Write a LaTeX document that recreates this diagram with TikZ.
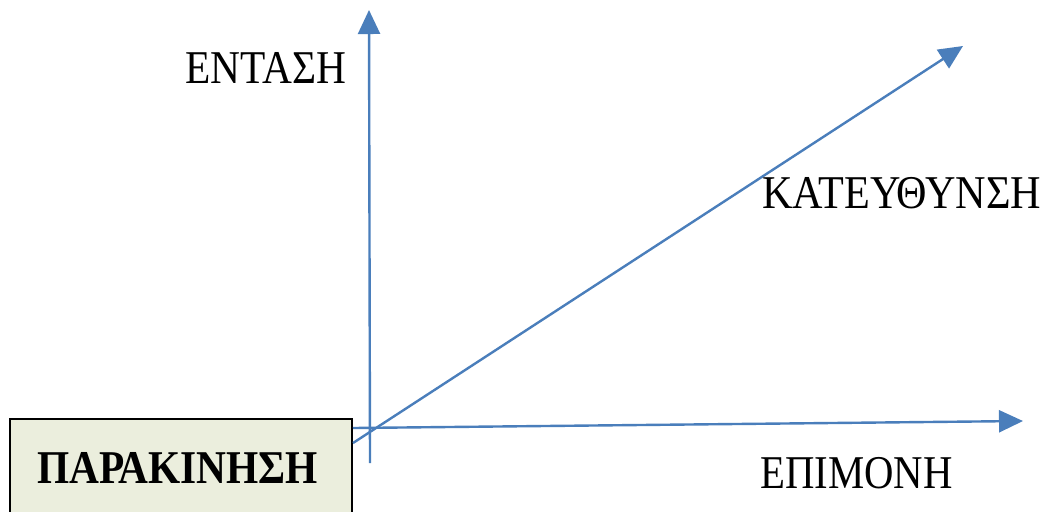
\documentclass[tikz,border=0pt]{standalone}
\usepackage{fontspec}
\setmainfont{Liberation Serif}
\usetikzlibrary{arrows.meta}
\definecolor{axisblue}{HTML}{4A7EBB}
\definecolor{boxfill}{HTML}{EBEEDD}
\begin{document}
\begin{tikzpicture}[x=0.5pt,y=-0.5pt,
  axis/.style={draw=axisblue,line width=1.2pt,-{Triangle[length=12pt,width=11pt]}},
  lbl/.style={inner sep=0pt,anchor=base west,xscale=0.88,font=\fontsize{23.5pt}{28pt}\selectfont},
  boxstyle/.style={draw=black,line width=1pt,fill=boxfill}]
\useasboundingbox (0,0) rectangle (1046,511);
\begin{scope}
\clip (0,0) rectangle (1046,511);
\path[boxstyle] (10,419) rectangle (352,530);
\end{scope}
\coordinate (vb) at (370,463);
\coordinate (vt) at (369,10);
\coordinate (hb) at (353,428);
\coordinate (ht) at (1023,421);
\coordinate (db) at (353,443);
\coordinate (dt) at (963,46);
\draw[axis] (vb) -- (vt);
\draw[axis] (hb) -- (ht);
\draw[axis] (db) -- (dt);
\node[lbl] (entasi) at (185,83) {ΕΝΤΑΣΗ};
\node[lbl,xscale=1.02] (kateuth) at (762,208) {ΚΑΤΕΥΘΥΝΣΗ};
\node[lbl,xscale=0.985] (epimoni) at (760,488) {ΕΠΙΜΟΝΗ};
\node[lbl,font=\fontsize{23.5pt}{28pt}\selectfont\bfseries] (parak) at (37,483) {ΠΑΡΑΚΙΝΗΣΗ};
\end{tikzpicture}
\end{document}
